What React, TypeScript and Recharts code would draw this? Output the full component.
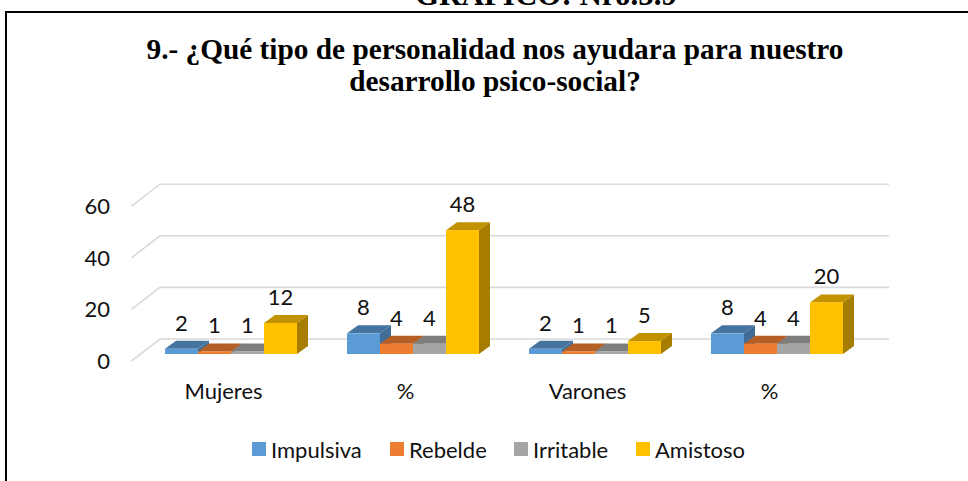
import { Bar, BarChart, CartesianGrid, LabelList, Legend, XAxis, YAxis } from "recharts";

const categories = ["Mujeres", "%", "Varones", "%"];
const impulsiva = [2, 8, 2, 8];
const rebelde = [1, 4, 1, 4];
const irritable = [1, 4, 1, 4];
const amistoso = [12, 48, 5, 20];
const yTicks = [0, 20, 40, 60];

const data = categories.map((label, i) => ({
  label,
  impulsiva: impulsiva[i],
  rebelde: rebelde[i],
  irritable: irritable[i],
  amistoso: amistoso[i],
}));

const FONT = "Lato, 'Open Sans', sans-serif";
const SERIF = "'Liberation Serif', serif";
const DEPTH_X = 11;
const DEPTH_Y = 8;

const Bar3D = ({ x, y, width, height, fill, top, side }: any) => {
  const r = x + width;
  const b = y + height;
  return (
    <g>
      <polygon points={`${x},${y} ${x + DEPTH_X},${y - DEPTH_Y} ${r + DEPTH_X},${y - DEPTH_Y} ${r},${y}`} fill={top} />
      <polygon points={`${r},${y} ${r + DEPTH_X},${y - DEPTH_Y} ${r + DEPTH_X},${b - DEPTH_Y} ${r},${b}`} fill={side} />
      <rect x={x} y={y} width={width} height={height} fill={fill} />
    </g>
  );
};

const GridLine = ({ x1, x2, y1 }: any) => (
  <polyline
    points={`${x1 - 9},${y1 + 7} ${x1 + 19.5},${y1 - 15} ${x2 + 20.5},${y1 - 15}`}
    fill="none"
    stroke="#d9d9d9"
    strokeWidth={1.6}
  />
);

const YTick = ({ y, payload }: any) => (
  <text x={110} y={y + 7} dy={8} textAnchor="end" fontFamily={FONT} fontSize={22} fill="#111">
    {payload.value}
  </text>
);

const XTick = ({ x, payload }: any) => (
  <text x={x - 8} y={399} textAnchor="middle" fontFamily={FONT} fontSize={22} fill="#111">
    {payload.value}
  </text>
);

const BarLabel = ({ x, y, width, value }: any) => (
  <text x={x + width / 2} y={y - 18} textAnchor="middle" fontFamily={FONT} fontSize={22} fill="#111">
    {value}
  </text>
);

const legendLefts = [252, 390, 514, 636];

const LegendRow = ({ payload }: any) => (
  <div style={{ position: "relative", height: 24 }}>
    {(payload || []).map((item: any, i: number) => (
      <div
        key={item.value}
        style={{ position: "absolute", left: legendLefts[i], top: 0, display: "flex", alignItems: "center", height: 24 }}
      >
        <span style={{ width: 14, height: 14, background: item.color, marginRight: 5 }} />
        <span style={{ fontFamily: FONT, fontSize: 22, color: "#111", whiteSpace: "nowrap" }}>{item.value}</span>
      </div>
    ))}
  </div>
);

const series = [
  { key: "impulsiva", name: "Impulsiva", fill: "#5b9bd5", top: "#44749f", side: "#3f6d97" },
  { key: "rebelde", name: "Rebelde", fill: "#ed7d31", top: "#b55f26", side: "#a85822" },
  { key: "irritable", name: "Irritable", fill: "#a5a5a5", top: "#7e7e7e", side: "#757575" },
  { key: "amistoso", name: "Amistoso", fill: "#ffc000", top: "#c29200", side: "#a67d00" },
];

export default function App() {
  return (
    <div style={{ position: "absolute", left: 0, top: 0, width: 968, height: 481, overflow: "hidden", background: "#fff" }}>
      <div
        style={{
          position: "absolute",
          left: 415,
          top: -19.5,
          fontFamily: SERIF,
          fontWeight: 700,
          fontSize: 31,
          lineHeight: "28px",
          whiteSpace: "nowrap",
          color: "#000",
        }}
      >
        GRAFICO: Nro.5.9
      </div>
      <div
        style={{
          position: "absolute",
          left: 5,
          top: 10.5,
          width: 970,
          height: 480,
          border: "2px solid #000",
          boxSizing: "border-box",
        }}
      />
      <div
        style={{
          position: "absolute",
          left: 0,
          top: 34,
          width: 990,
          textAlign: "center",
          fontFamily: SERIF,
          fontWeight: 700,
          fontSize: 29.3,
          lineHeight: "31.5px",
          color: "#000",
        }}
      >
        9.- ¿Qué tipo de personalidad nos ayudara para nuestro
        <br />
        desarrollo psico-social?
      </div>
      <BarChart
        width={968}
        height={481}
        data={data}
        margin={{ top: 199.2, right: 99.5, bottom: 73, left: 40.5 }}
        barCategoryGap={24.5}
        barGap={0}
        style={{ position: "absolute", left: 0, top: 0 }}
      >
        <CartesianGrid vertical={false} horizontal={(props: any) => <GridLine key={props.key ?? props.y1} {...props} />} />
        <XAxis dataKey="label" axisLine={false} tickLine={false} tick={<XTick />} height={30} interval={0} />
        <YAxis domain={[0, 60]} ticks={yTicks} axisLine={false} tickLine={false} tick={<YTick />} width={100} />
        <Legend
          verticalAlign="bottom"
          itemSorter={null}
          content={<LegendRow />}
          wrapperStyle={{ position: "absolute", left: 0, top: 437, width: 968, height: 24 }}
        />
        {series.map((s) => (
          <Bar
            key={s.key}
            dataKey={s.key}
            name={s.name}
            fill={s.fill}
            isAnimationActive={false}
            shape={<Bar3D top={s.top} side={s.side} />}
          >
            <LabelList dataKey={s.key} content={<BarLabel />} />
          </Bar>
        ))}
      </BarChart>
    </div>
  );
}
